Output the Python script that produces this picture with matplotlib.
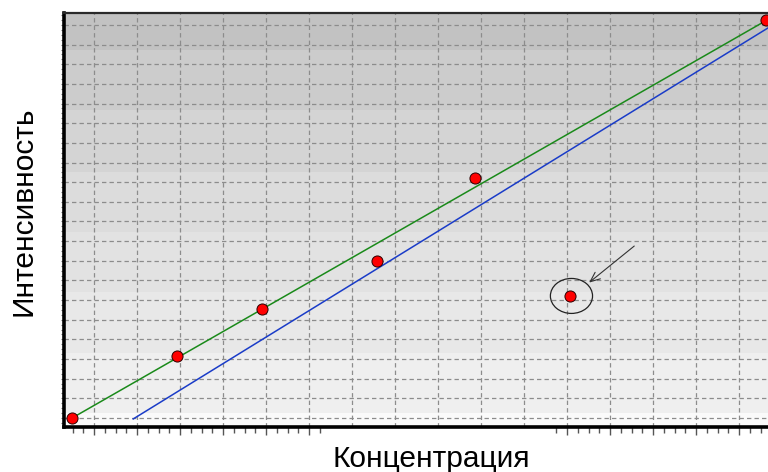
import matplotlib
matplotlib.use("Agg")
import matplotlib.pyplot as plt
from matplotlib.patches import Ellipse, Rectangle
from matplotlib.ticker import MultipleLocator, FixedLocator
import numpy as np

# Calibration points (concentration vs. intensity, arbitrary units)
conc = [0.49, 2.93, 4.91, 7.58, 9.86, 16.63]
intensity = [1.00, 4.16, 6.55, 8.99, 13.21, 21.25]

# Rejected point (outlier)
outlier_conc = [12.07]
outlier_int = [7.21]

# Calibration lines (end points)
green_x = [0.49, 16.70]
green_y = [1.00, 21.32]
blue_x = [1.91, 16.70]
blue_y = [0.95, 20.89]

x_range = (0.30, 16.67)
y_range = (0.54, 21.61)

fig = plt.figure(figsize=(7.68, 4.72), dpi=100)
ax = fig.add_axes([64 / 768, 45 / 472, 1 - 64 / 768, 414 / 472])
ax.set_xlim(*x_range)
ax.set_ylim(*y_range)

# Stepped grey background, darker towards the top
band_edges = [0.0, 0.034, 0.179, 0.326, 0.471, 0.616, 0.766, 0.911, 1.0]
band_colors = ["#fafafa", "#efefef", "#e8e8e8", "#e2e2e2",
               "#dcdcdc", "#d4d4d4", "#cccccc", "#c2c2c2"]
for lo, hi, c in zip(band_edges[:-1], band_edges[1:], band_colors):
    ax.add_patch(Rectangle((0, lo), 1, hi - lo, transform=ax.transAxes,
                           facecolor=c, edgecolor="none", zorder=0))

# Grid
ax.xaxis.set_major_locator(MultipleLocator(1))
ax.yaxis.set_major_locator(MultipleLocator(1))
ax.yaxis.set_minor_locator(MultipleLocator(0.25))
minor_x = [v for v in np.arange(0.5, 16.7, 0.25) if v <= 6.25 or v >= 11.75]
ax.xaxis.set_minor_locator(FixedLocator(minor_x))
ax.grid(True, which="major", color="#8c8c8c", linestyle=(0, (3.5, 2.5)),
        linewidth=0.9, zorder=1)
ax.set_axisbelow(True)

ax.tick_params(axis="x", which="major", direction="out", length=6, width=1,
               color="#555555", labelbottom=False)
ax.tick_params(axis="x", which="minor", direction="out", length=4, width=1,
               color="#555555")
ax.tick_params(axis="y", which="both", direction="out", length=2.5, width=0.8,
               color="#777777", labelleft=False)
fig.canvas.draw()
for t, v in zip(ax.xaxis.get_major_ticks(), ax.get_xticks()):
    if 6.5 < v < 11.5:
        t.tick1line.set_visible(False)

for side in ("left", "bottom"):
    ax.spines[side].set_linewidth(2.6)
    ax.spines[side].set_color("#000000")
ax.spines["top"].set_linewidth(1.6)
ax.spines["top"].set_color("#2a2a2a")
ax.spines["right"].set_visible(False)

# Lines
ax.plot(green_x, green_y, color="#1a8a1a", linewidth=1.1, zorder=3)
ax.plot(blue_x, blue_y, color="#1a3cc8", linewidth=1.1, zorder=3)

# Points
ax.plot(conc, intensity, "o", color="#ff0000", markeredgecolor="#2a0000",
        markeredgewidth=0.7, markersize=8, zorder=4, clip_on=False)
ax.plot(outlier_conc, outlier_int, "o", color="#ff0000",
        markeredgecolor="#2a0000", markeredgewidth=0.7, markersize=8, zorder=4)

# Mark the outlier
ax.add_patch(Ellipse((outlier_conc[0] + 0.03, outlier_int[0]), 0.98, 1.78,
                     facecolor="none", edgecolor="#222222", linewidth=0.9,
                     zorder=4))
ax.annotate("", xy=(outlier_conc[0] + 0.44, outlier_int[0] + 0.68),
            xytext=(outlier_conc[0] + 1.49, outlier_int[0] + 2.54),
            arrowprops=dict(arrowstyle="->,head_length=0.7,head_width=0.3",
                            color="#333333", linewidth=0.8, shrinkA=0,
                            shrinkB=0), zorder=5)

ax.set_xlabel("Концентрация", fontsize=21.5, family="Liberation Sans",
              va="baseline")
ax.set_ylabel("Интенсивность", fontsize=21.5, family="Liberation Sans",
              va="baseline")
ax.xaxis.set_label_coords(0.522, -0.0966)
ax.yaxis.set_label_coords(-0.0455, 0.5205)

fig.savefig("out.png", dpi=100)
